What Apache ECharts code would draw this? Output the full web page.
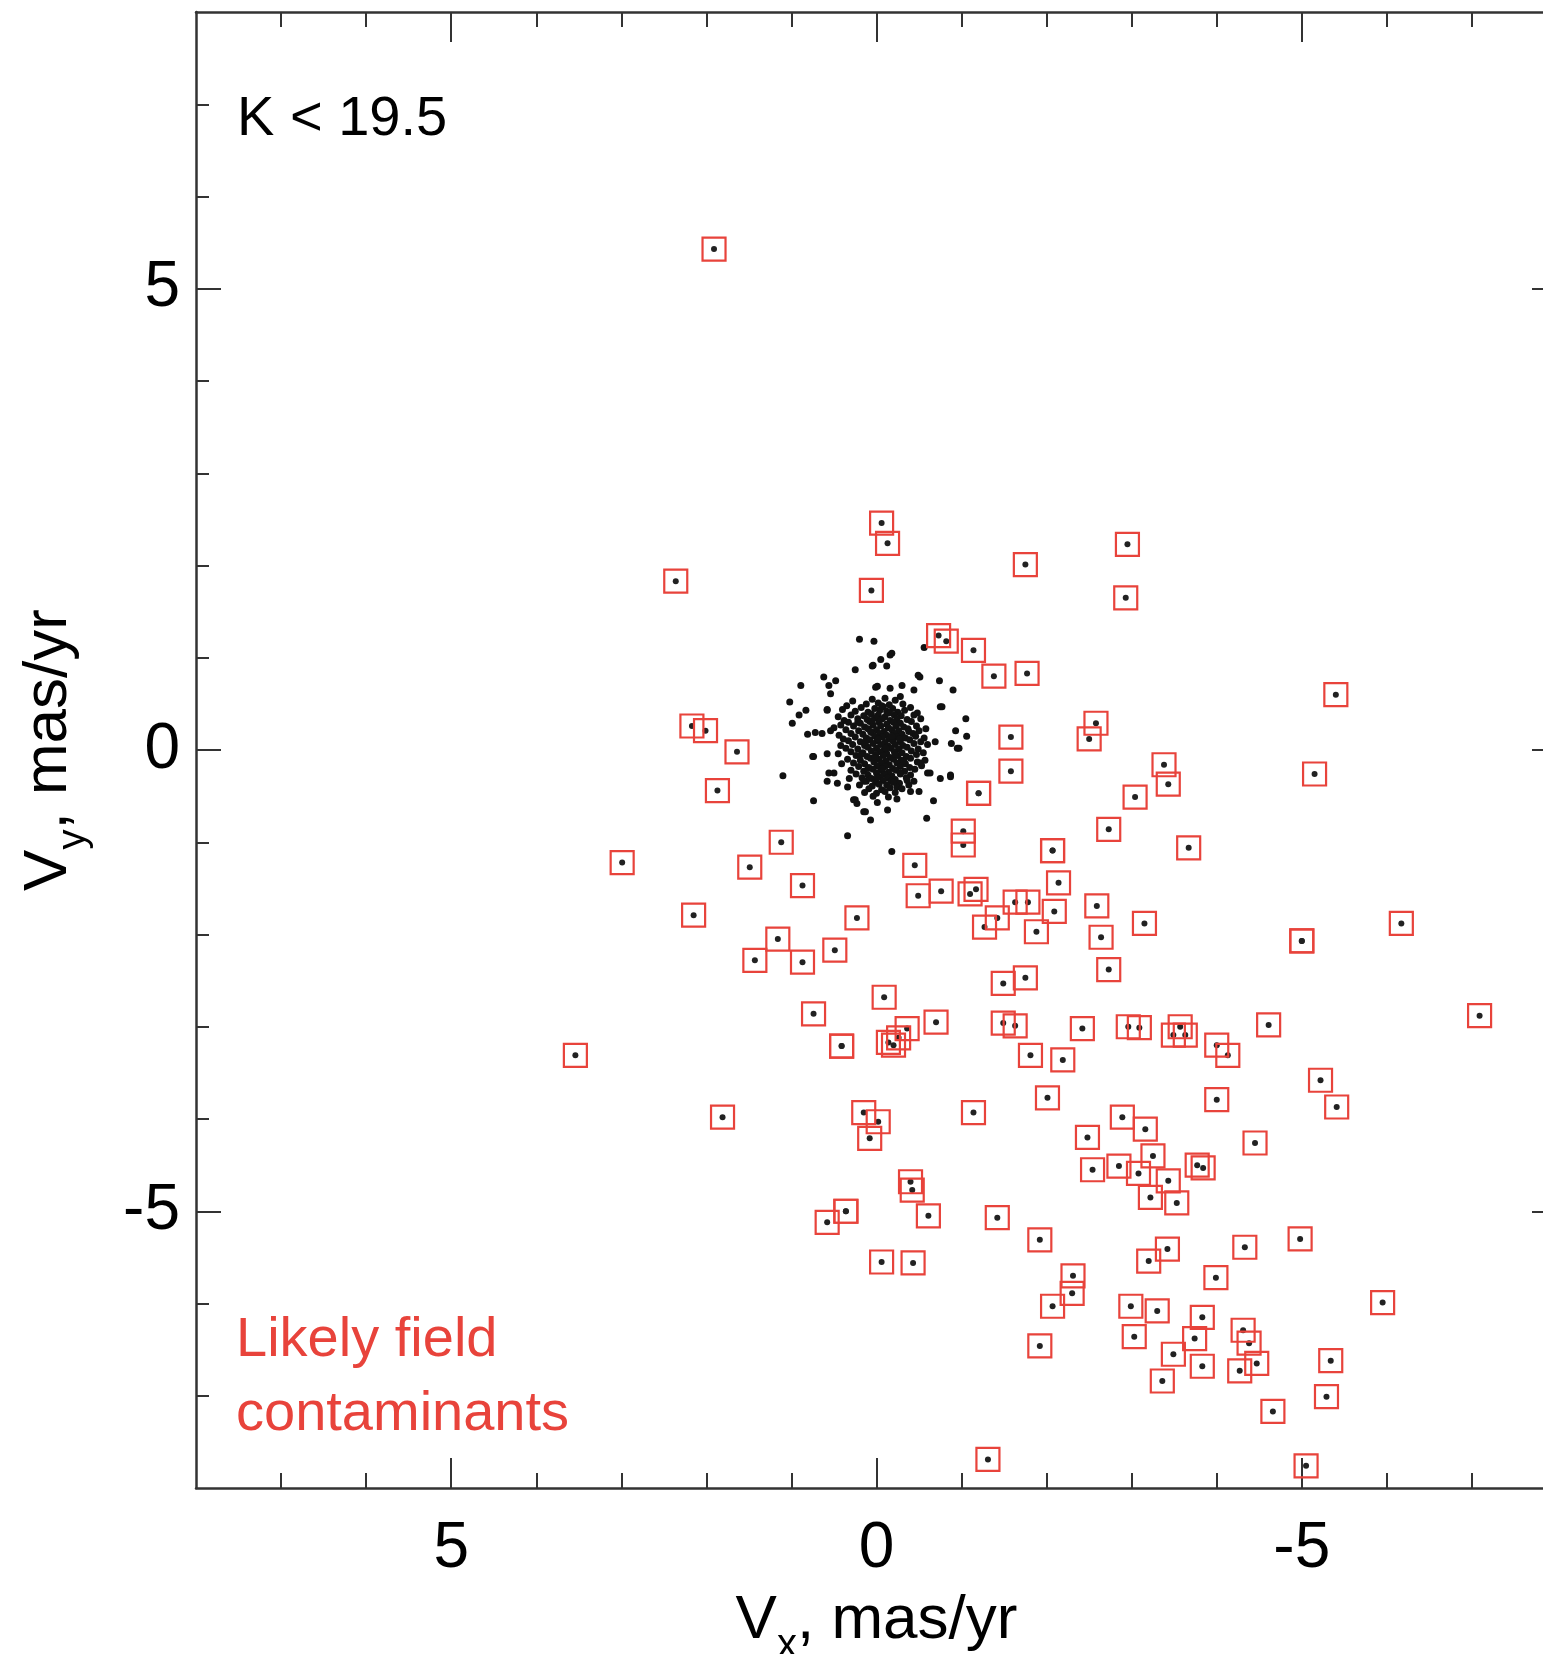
<!DOCTYPE html>
<html>
<head>
<meta charset="utf-8">
<script src="https://cdn.jsdelivr.net/npm/echarts@6/dist/echarts.min.js"></script>
<style>
html,body{margin:0;padding:0;background:#fff;}
#chart{width:1543px;height:1654px;}
</style>
</head>
<body>
<div id="chart"></div>
<script>
// ---- data (mas/yr) ----
const xRange = [-8, 8];
const yRange = [-8, 8];
const xMajorTicks = [-5, 0, 5];
const xMinorTicks = [-7, -6, -4, -3, -2, -1, 1, 2, 3, 4, 6, 7];
const yMajorTicks = [-5, 0, 5];
const yMinorTicks = [-7, -6, -4, -3, -2, -1, 1, 2, 3, 4, 6, 7];

// cluster members: outer halo
const memberHalo = [
[0.20,1.20],[0.03,1.18],[-0.56,1.11],[-0.18,1.05],[-0.05,0.98],[0.05,0.91],[-0.12,0.91],[0.25,0.87],[-0.51,0.79],[-0.74,0.75],
[-0.90,0.65],[0.62,0.79],[0.48,0.75],[0.56,0.70],[0.89,0.70],[0.54,0.61],[1.02,0.52],[0.83,0.43],[0.91,0.38],[0.99,0.29],
[0.58,0.44],[0.01,0.68],[-0.16,0.67],[-0.30,0.70],[-0.44,0.65],[-0.28,0.58],[-0.75,0.47],[-1.05,0.34],[-1.06,0.15],[-0.93,0.21],
[-0.88,0.07],[-0.95,0.02],[-0.69,0.09],[0.81,0.17],[0.72,0.19],[0.64,0.18],[0.54,0.21],[1.10,-0.28],[0.74,-0.07],[0.58,-0.04],
[0.74,-0.55],[0.34,-0.93],[-0.18,-1.10],[0.07,-0.76],[0.13,-0.67],[-0.01,-0.57],[-0.13,-0.65],[-0.24,-0.53],[-0.40,-0.45],[-0.50,-0.45],
[-0.67,-0.55],[-0.59,-0.74],[0.25,-0.54],[0.23,-0.58],[0.50,-0.25],[0.46,-0.36],[0.34,-0.40],[0.58,-0.34],[-0.63,-0.25],[-0.75,-0.31],
[-0.87,-0.27],[-0.52,-0.14],[-0.36,-0.33],[-0.28,-0.25],[0.04,0.92],[-0.16,1.03],[-0.49,0.81],[-0.77,0.47],[-0.97,0.02],[-0.87,-0.29],
[0.15,-0.67],[0.27,-0.54],[0.56,-0.25],[0.75,-0.07],[0.58,0.43],[-0.01,0.69]
];

// cluster members: dense core
const memberCore = [
[0.05,0.55],[-0.10,0.56],[-0.22,0.54],[0.28,0.53],
[0.12,0.50],[-0.02,0.51],[-0.15,0.49],[-0.31,0.50],[0.35,0.48],
[0.18,0.46],[0.02,0.45],[-0.08,0.47],[-0.19,0.45],[-0.40,0.46],[0.40,0.44],
[0.25,0.42],[0.10,0.41],[-0.04,0.43],[-0.12,0.42],[-0.25,0.41],[-0.33,0.43],[-0.48,0.40],
[0.30,0.38],[0.15,0.37],[0.06,0.39],[-0.02,0.38],[-0.10,0.36],[-0.21,0.38],[-0.29,0.37],[-0.44,0.38],[0.45,0.36],
[0.22,0.34],[0.11,0.33],[0.01,0.35],[-0.07,0.34],[-0.16,0.32],[-0.24,0.34],[-0.36,0.33],[-0.52,0.34],[0.38,0.32],
[0.33,0.30],[0.19,0.29],[0.08,0.31],[-0.03,0.30],[-0.12,0.28],[-0.20,0.30],[-0.28,0.29],[-0.41,0.31],[0.42,0.27],
[0.27,0.26],[0.14,0.25],[0.04,0.27],[-0.05,0.26],[-0.14,0.24],[-0.23,0.26],[-0.32,0.25],[-0.47,0.26],[0.50,0.24],[-0.58,0.23],
[0.36,0.22],[0.21,0.21],[0.10,0.23],[0.00,0.22],[-0.09,0.20],[-0.18,0.22],[-0.26,0.21],[-0.37,0.23],[-0.50,0.21],
[0.30,0.18],[0.16,0.17],[0.06,0.19],[-0.04,0.18],[-0.12,0.16],[-0.21,0.18],[-0.30,0.17],[-0.43,0.18],[0.44,0.16],
[0.25,0.14],[0.12,0.13],[0.02,0.15],[-0.07,0.14],[-0.15,0.12],[-0.24,0.14],[-0.34,0.13],[-0.46,0.15],[-0.56,0.13],[0.39,0.12],
[0.33,0.10],[0.19,0.09],[0.08,0.11],[-0.01,0.10],[-0.10,0.08],[-0.19,0.10],[-0.28,0.09],[-0.39,0.11],[-0.52,0.09],
[0.28,0.06],[0.14,0.05],[0.04,0.07],[-0.05,0.06],[-0.14,0.04],[-0.22,0.06],[-0.31,0.05],[-0.44,0.07],[0.42,0.05],[-0.60,0.06],
[0.36,0.02],[0.22,0.01],[0.10,0.03],[0.00,0.02],[-0.09,0.00],[-0.17,0.02],[-0.26,0.01],[-0.36,0.03],[-0.49,0.01],
[0.30,-0.02],[0.16,-0.03],[0.06,-0.01],[-0.04,-0.02],[-0.12,-0.04],[-0.21,-0.02],[-0.30,-0.03],[-0.41,-0.01],[-0.55,-0.03],[0.45,-0.04],
[0.24,-0.06],[0.11,-0.07],[0.01,-0.05],[-0.08,-0.06],[-0.16,-0.08],[-0.25,-0.06],[-0.35,-0.07],[-0.47,-0.05],
[0.34,-0.10],[0.19,-0.11],[0.07,-0.09],[-0.03,-0.10],[-0.11,-0.12],[-0.20,-0.10],[-0.29,-0.11],[-0.40,-0.09],[-0.57,-0.11],
[0.27,-0.14],[0.14,-0.15],[0.03,-0.13],[-0.06,-0.14],[-0.15,-0.16],[-0.24,-0.14],[-0.34,-0.15],[-0.48,-0.13],[0.41,-0.15],
[0.21,-0.18],[0.09,-0.19],[-0.01,-0.17],[-0.10,-0.18],[-0.19,-0.20],[-0.28,-0.18],[-0.39,-0.19],[-0.53,-0.17],
[0.30,-0.22],[0.15,-0.23],[0.04,-0.21],[-0.05,-0.22],[-0.14,-0.24],[-0.23,-0.22],[-0.33,-0.23],[-0.45,-0.21],
[0.24,-0.26],[0.10,-0.27],[0.00,-0.25],[-0.09,-0.26],[-0.18,-0.28],[-0.28,-0.26],[-0.40,-0.27],[-0.60,-0.25],
[0.17,-0.30],[0.06,-0.31],[-0.04,-0.29],[-0.13,-0.30],[-0.22,-0.32],[-0.35,-0.30],[0.32,-0.31],
[0.12,-0.34],[0.01,-0.35],[-0.08,-0.33],[-0.17,-0.34],[-0.27,-0.36],[-0.44,-0.34],
[0.20,-0.38],[0.05,-0.39],[-0.03,-0.37],[-0.12,-0.38],[-0.24,-0.40],[-0.38,-0.38],
[0.09,-0.42],[-0.06,-0.43],[-0.16,-0.41],[-0.30,-0.42],
[0.14,-0.46],[0.00,-0.47],[-0.10,-0.45],[-0.22,-0.46],
[0.04,-0.50],[-0.14,-0.51],
[0.07,0.20],[-0.02,0.12],[-0.11,0.02],[0.02,-0.08],[-0.07,-0.20],[-0.18,0.15],[0.13,0.08],[-0.22,-0.05],[0.05,0.32],[-0.15,0.40],
[-0.27,0.12],[0.18,-0.05],[-0.01,-0.30],[-0.20,-0.35],[0.10,-0.20],[-0.32,-0.12],[0.22,0.30],[-0.06,0.48],[-0.38,0.20],[0.15,-0.34]
];

// likely field contaminants (boxed)
const fieldStars = [
[1.91,5.43],[-0.06,2.46],[-0.13,2.24],[-1.75,2.01],[2.36,1.83],[0.06,1.73],[-0.73,1.24],[-0.82,1.18],[-2.95,2.23],[-2.93,1.65],
[-1.14,1.08],[-1.38,0.80],[-1.77,0.83],[2.17,0.26],[2.01,0.21],[1.64,-0.02],[-1.58,0.14],[-1.58,-0.23],[1.87,-0.44],[-1.20,-0.47],[-1.20,-0.47],
[-1.02,-0.88],[-1.02,-1.03],[-2.07,-1.09],[-2.07,-1.09],[2.99,-1.22],[1.12,-1.00],[1.49,-1.27],[-0.45,-1.25],[0.87,-1.47],[-0.49,-1.58],[-0.76,-1.53],
[-1.10,-1.56],[-1.17,-1.51],[-1.63,-1.65],[-1.78,-1.65],[-1.42,-1.82],[-1.27,-1.92],[-1.88,-1.97],[2.15,-1.79],[0.23,-1.82],[1.16,-2.05],[1.43,-2.28],[0.87,-2.30],[0.49,-2.17],
[-1.49,-2.53],[-1.75,-2.47],[-0.09,-2.68],[0.74,-2.86],[-0.70,-2.95],[-0.36,-3.02],[-1.49,-2.96],[-1.63,-2.99],[0.41,-3.21],[0.41,-3.21],
[-0.14,-3.17],[-0.20,-3.20],[-0.26,-3.12],[3.54,-3.31],[-1.81,-3.31],[-2.19,-3.36],
[-5.40,0.60],[-2.58,0.29],[-2.50,0.12],[-3.38,-0.16],[-3.43,-0.37],[-5.15,-0.26],[-3.04,-0.51],[-2.73,-0.86],[-3.67,-1.06],[-2.14,-1.44],
[-2.59,-1.69],[-2.09,-1.75],[-3.15,-1.88],[-2.64,-2.03],[-5.00,-2.07],[-5.00,-2.07],[-6.17,-1.88],[-2.73,-2.38],
[-2.42,-3.02],[-2.96,-3.00],[-3.09,-3.01],[-3.57,-3.00],[-3.49,-3.09],[-3.63,-3.09],[-4.00,-3.20],[-4.13,-3.31],[-4.61,-2.98],[-7.09,-2.88],
[1.81,-3.98],[0.15,-3.93],[-0.02,-4.03],[0.08,-4.21],[-1.14,-3.93],[-0.40,-4.68],[-0.42,-4.77],[-0.61,-5.05],[-1.42,-5.07],[0.36,-5.00],[0.36,-5.00],
[0.58,-5.12],[-1.92,-5.31],[-0.06,-5.55],[-0.43,-5.56],[-1.92,-6.46],[-1.31,-7.69],
[-5.22,-3.58],[-5.41,-3.87],[-2.01,-3.77],[-4.00,-3.79],[-2.89,-3.98],[-3.16,-4.11],[-2.48,-4.20],[-4.45,-4.26],[-3.25,-4.40],[-2.54,-4.55],
[-2.85,-4.51],[-3.08,-4.59],[-3.43,-4.67],[-3.77,-4.50],[-3.84,-4.53],[-3.22,-4.85],[-3.53,-4.91],
[-3.42,-5.41],[-3.20,-5.54],[-4.33,-5.39],[-4.98,-5.30],[-2.31,-5.70],[-2.30,-5.89],[-2.07,-6.03],[-2.99,-6.03],[-3.30,-6.08],[-3.99,-5.72],
[-5.95,-5.99],[-3.83,-6.15],[-3.03,-6.36],[-3.74,-6.38],[-3.49,-6.55],[-3.83,-6.68],[-3.36,-6.84],[-4.31,-6.29],[-4.38,-6.43],[-4.47,-6.65],
[-4.27,-6.73],[-5.34,-6.62],[-5.29,-7.01],[-4.66,-7.17],[-5.05,-7.76]
];

const annotationTop = 'K < 19.5';
const annotationField = ['Likely field', 'contaminants'];

// ---- styling ----
const FONT = '"Liberation Sans", Arial, Helvetica, sans-serif';
const AXIS_COLOR = '#333333';
const RED = '#e8433b';
const lineStyle = { color: AXIS_COLOR, width: 2.5 };
const tickStyle = { color: AXIS_COLOR, width: 2 };

const nameRich = {
  v: { fontSize: 62, fontFamily: FONT, color: '#000', lineHeight: 62, verticalAlign: 'top' },
  s: { fontSize: 40, fontFamily: FONT, color: '#000', lineHeight: 76, verticalAlign: 'bottom' }
};

function makeAxis(kind, pos, ticks, len, primary) {
  const range = kind === 'x' ? xRange : yRange;
  return {
    type: 'value',
    gridIndex: 0,
    position: pos,
    min: range[0],
    max: range[1],
    inverse: kind === 'x',
    splitLine: { show: false },
    axisLine: { show: primary, onZero: false, lineStyle: lineStyle },
    axisTick: { show: true, inside: true, length: len, customValues: ticks, lineStyle: tickStyle },
    axisLabel: { show: false },
    axisPointer: { show: false }
  };
}

const xAxes = [
  makeAxis('x', 'bottom', xMajorTicks, 30, true),
  makeAxis('x', 'bottom', xMinorTicks, 15, false),
  makeAxis('x', 'top', xMajorTicks, 30, true),
  makeAxis('x', 'top', xMinorTicks, 15, false)
];
xAxes[0].axisLabel = {
  show: true, customValues: xMajorTicks, margin: 29,
  fontSize: 64, fontFamily: FONT, color: '#000'
};
xAxes[0].name = '{v|V}{s|x}{v|, mas/yr}';
xAxes[0].nameLocation = 'middle';
xAxes[0].nameGap = 102;
xAxes[0].nameMoveOverlap = false;
xAxes[0].nameTextStyle = { rich: nameRich };

const yAxes = [
  makeAxis('y', 'left', yMajorTicks, 25, true),
  makeAxis('y', 'left', yMinorTicks, 13, false),
  makeAxis('y', 'right', yMajorTicks, 25, true),
  makeAxis('y', 'right', yMinorTicks, 13, false)
];
yAxes[0].axisLabel = {
  show: true, customValues: yMajorTicks, margin: 16,
  fontSize: 64, fontFamily: FONT, color: '#000'
};
yAxes[0].name = '{v|V}{s|y}{v|, mas/yr}';
yAxes[0].nameLocation = 'middle';
yAxes[0].nameGap = 102;
yAxes[0].nameMoveOverlap = false;
yAxes[0].nameTextStyle = { rich: nameRich };

const chart = echarts.init(document.getElementById('chart'), null, { renderer: 'canvas' });
chart.setOption({
  animation: false,
  backgroundColor: '#ffffff',
  grid: { left: 196, right: -14, top: 12, bottom: 166, containLabel: false, outerBoundsMode: 'none' },
  xAxis: xAxes,
  yAxis: yAxes,
  series: [
    {
      type: 'scatter', name: 'members', xAxisIndex: 0, yAxisIndex: 0, silent: true,
      data: memberCore.concat(memberHalo), symbol: 'circle', symbolSize: 7,
      itemStyle: { color: '#111111', opacity: 1 }, z: 2
    },
    {
      type: 'scatter', name: 'field dots', xAxisIndex: 0, yAxisIndex: 0, silent: true,
      data: fieldStars, symbol: 'circle', symbolSize: 6,
      itemStyle: { color: '#222222', opacity: 1 }, z: 3
    },
    {
      type: 'scatter', name: 'field boxes', xAxisIndex: 0, yAxisIndex: 0, silent: true,
      data: fieldStars, symbol: 'rect', symbolSize: 23,
      itemStyle: { color: 'rgba(0,0,0,0)', borderColor: RED, borderWidth: 2.2, opacity: 1 }, z: 4
    }
  ],
  graphic: [
    { type: 'text', x: 237, y: 120, silent: true,
      style: { text: annotationTop, fontSize: 56, fontFamily: FONT, fill: '#000', align: 'left', verticalAlign: 'middle' } },
    { type: 'text', x: 236, y: 1341, silent: true,
      style: { text: annotationField[0], fontSize: 56, fontFamily: FONT, fill: RED, align: 'left', verticalAlign: 'middle' } },
    { type: 'text', x: 236, y: 1415, silent: true,
      style: { text: annotationField[1], fontSize: 56, fontFamily: FONT, fill: RED, align: 'left', verticalAlign: 'middle' } }
  ]
});
</script>
</body>
</html>
